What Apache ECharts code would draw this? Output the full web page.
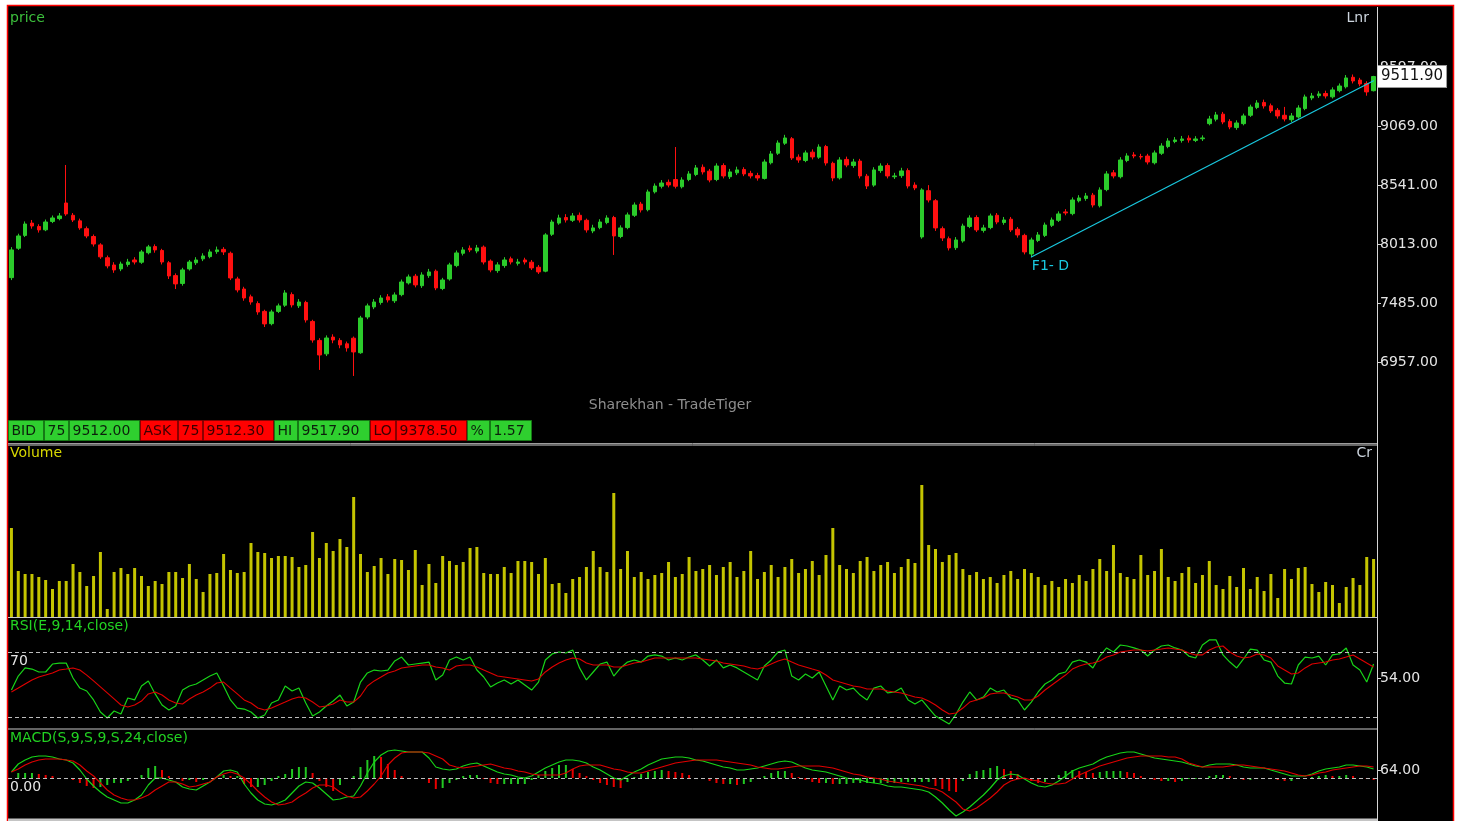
<!DOCTYPE html>
<html>
<head>
<meta charset="utf-8">
<title>price</title>
<script src="https://cdn.jsdelivr.net/npm/echarts@6/dist/echarts.min.js"></script>
<style>
  html, body { margin: 0; padding: 0; background: #ffffff; overflow: hidden; }
  #chart { width: 1459px; height: 821px; }
</style>
</head>
<body>
<div id="chart"></div>
<script>
// ---- daily candles: open / close / low / high ----
const opens = [7712,7975,8090,8200,8170,8140,8215,8240,8380,8270,
 8220,8150,8080,8005,7890,7825,7790,7830,7870,7850,
 7935,7990,7955,7845,7730,7660,7790,7845,7880,7900,
 7945,7965,7930,7700,7610,7540,7480,7410,7300,7410,
 7465,7560,7460,7490,7320,7150,7030,7180,7150,7120,
 7170,7040,7360,7450,7490,7540,7505,7560,7665,7725,
 7640,7730,7770,7615,7700,7820,7930,7975,7950,7985,
 7860,7775,7820,7880,7840,7870,7850,7805,7770,8100,
 8200,8250,8225,8270,8225,8130,8160,8205,8250,8080,
 8160,8270,8370,8320,8480,8530,8565,8590,8525,8590,
 8635,8700,8665,8590,8715,8615,8650,8680,8645,8625,
 8600,8740,8825,8915,8955,8790,8760,8835,8790,8885,
 8735,8605,8770,8715,8755,8620,8540,8670,8715,8615,
 8625,8670,8540,8076,8490,8400,8150,8060,7980,8040,
 8170,8250,8135,8160,8270,8205,8235,8145,8090,7924,
 8045,8090,8180,8225,8300,8285,8400,8420,8450,8355,
 8500,8650,8615,8760,8810,8795,8800,8740,8825,8885,
 8930,8940,8960,8940,8955,9090,9130,9175,9110,9055,
 9090,9165,9235,9280,9250,9210,9165,9125,9150,9225,
 9320,9340,9360,9330,9385,9420,9505,9480,9450,9385];

const closes = [7960,8085,8192,8174,8139,8210,8246,8264,8282,8228,
 8157,8085,8013,7898,7817,7781,7834,7852,7852,7942,
 7987,7960,7852,7727,7656,7781,7852,7870,7906,7942,
 7960,7942,7709,7602,7530,7494,7405,7298,7405,7459,
 7575,7468,7494,7333,7154,7020,7172,7154,7110,7083,
 7047,7351,7459,7494,7530,7512,7557,7673,7718,7647,
 7736,7763,7620,7691,7826,7933,7960,7960,7978,7852,
 7781,7826,7870,7852,7852,7852,7799,7763,8094,8210,
 8246,8228,8264,8228,8139,8157,8210,8246,8085,8157,
 8273,8362,8318,8479,8532,8559,8541,8530,8586,8640,
 8694,8658,8586,8711,8622,8658,8676,8640,8622,8604,
 8747,8819,8917,8962,8783,8765,8828,8792,8881,8738,
 8604,8765,8720,8747,8622,8532,8676,8711,8622,8622,
 8667,8532,8515,8497,8407,8157,8067,7978,8049,8174,
 8246,8139,8157,8264,8210,8228,8139,8094,7942,8049,
 8094,8183,8228,8282,8291,8407,8425,8443,8362,8497,
 8640,8622,8765,8801,8801,8792,8747,8828,8890,8935,
 8944,8953,8944,8953,8962,9132,9168,9105,9060,9096,
 9159,9239,9275,9248,9204,9159,9132,9159,9230,9329,
 9338,9356,9338,9392,9427,9499,9472,9445,9374,9511.9];

const lows = [7690,7960,8075,8150,8115,8128,8200,8225,8265,8210,
 8140,8065,7990,7880,7795,7755,7770,7810,7830,7835,
 7920,7935,7830,7700,7610,7640,7775,7825,7860,7885,
 7925,7915,7690,7580,7505,7470,7380,7270,7285,7395,
 7450,7445,7440,7310,7130,6886,7010,7125,7080,7050,
 6832,7030,7340,7430,7470,7490,7485,7545,7650,7625,
 7620,7710,7600,7600,7685,7805,7910,7940,7930,7830,
 7760,7755,7800,7830,7820,7830,7780,7745,7760,8085,
 8185,8205,8210,8205,8115,8110,8145,8190,7915,8065,
 8145,8255,8295,8305,8465,8510,8520,8510,8510,8575,
 8620,8635,8565,8575,8600,8595,8630,8620,8600,8580,
 8590,8725,8810,8900,8765,8740,8745,8770,8775,8715,
 8575,8590,8700,8695,8600,8505,8525,8650,8600,8595,
 8605,8510,8495,8060,8385,8130,8040,7955,7960,8025,
 8155,8120,8115,8145,8190,8185,8120,8070,7920,7897,
 8030,8075,8165,8210,8270,8270,8385,8400,8340,8340,
 8485,8600,8600,8745,8780,8770,8725,8725,8810,8870,
 8915,8920,8920,8925,8935,9075,9110,9085,9040,9035,
 9075,9150,9220,9225,9185,9135,9110,9105,9135,9210,
 9300,9320,9315,9315,9370,9405,9450,9425,9340,9378.5];

const highs = [7985,8105,8215,8228,8190,8232,8268,8290,8720,8290,
 8240,8170,8098,8020,7910,7850,7855,7880,7895,7960,
 8005,8010,7970,7860,7750,7800,7870,7895,7930,7965,
 7990,7985,7945,7720,7630,7560,7500,7425,7425,7480,
 7600,7580,7520,7505,7335,7170,7195,7205,7170,7140,
 7185,7370,7480,7520,7555,7565,7580,7695,7740,7745,
 7760,7790,7785,7710,7845,7955,7985,8000,8005,8000,
 7875,7850,7895,7900,7880,7890,7870,7825,8110,8230,
 8275,8280,8290,8295,8240,8185,8235,8270,8265,8180,
 8295,8385,8390,8500,8555,8585,8590,8881,8610,8665,
 8720,8725,8685,8735,8735,8685,8705,8700,8668,8650,
 8770,8845,8940,8990,8970,8815,8850,8860,8905,8900,
 8750,8790,8795,8775,8775,8640,8700,8735,8735,8650,
 8695,8690,8565,8512,8540,8415,8170,8080,8075,8195,
 8270,8270,8185,8285,8290,8255,8255,8165,8105,8070,
 8120,8205,8250,8305,8325,8430,8450,8470,8470,8520,
 8665,8675,8790,8825,8835,8820,8820,8850,8915,8960,
 8970,8980,8985,8978,8985,9160,9195,9195,9130,9120,
 9180,9260,9300,9305,9270,9230,9240,9185,9255,9350,
 9365,9380,9385,9415,9450,9525,9530,9500,9470,9517.9];

// ---- traded volume per session ----
const volumes = [89,46,43,43,40,37,28,36,36,53,
 45,31,41,65,8,45,49,43,49,41,
 31,36,33,45,45,39,53,38,25,43,
 44,63,47,44,45,74,65,64,59,61,
 61,60,50,52,85,59,74,66,78,70,
 120,63,45,51,59,43,58,57,47,67,
 32,53,34,61,56,52,55,69,70,44,
 43,43,50,44,56,56,55,43,59,33,
 34,24,38,40,50,66,50,45,124,48,
 66,40,45,38,42,44,55,40,43,60,
 46,48,52,42,50,55,40,46,66,38,
 45,52,40,50,58,44,48,56,42,62,
 89,52,48,44,56,60,46,52,55,44,
 50,58,54,132,72,68,55,62,64,48,
 42,45,38,40,34,42,46,38,48,44,
 40,32,36,30,38,34,42,36,48,58,
 46,72,44,40,38,62,42,46,68,40,
 36,44,50,34,42,56,32,28,41,30,
 49,28,40,26,43,19,48,38,49,50,
 33,25,35,32,14,30,39,32,60,58];

// ---- RSI(E,9,14,close): RSI line and its average ----
const rsiLine = [46.6,55.2,60.2,59.5,57.7,57.7,62.6,63.2,63.2,54,
 47.8,46,40.5,33.1,29.4,33.7,31.8,41.7,40.5,49.1,
 52.2,44.2,37.4,34.3,36.8,46.6,49.1,50.3,52.8,55.2,
 57.1,49.1,40.5,35.5,34.9,33.1,29.4,31.2,38.6,40.5,
 49.1,46,47.8,38.6,30.6,33.1,36.8,39.8,43.5,36.8,
 39.2,51.5,57.1,58.9,58.3,58.9,64.5,66.9,62,62.6,
 63.2,63.8,52.8,55.8,65.1,66.9,65.1,66.9,58.9,54.6,
 48.5,50.9,52.8,50.3,52.8,49.7,46.6,51.5,65.1,68.8,
 70,69.4,71.2,60.2,52.8,57.7,62.6,63.8,55.2,60.2,
 63.8,65.1,63.8,67.5,68.2,67.5,65.1,66.3,65.1,66.9,
 68.2,65.1,61.4,65.1,60.2,62,60.2,57.7,55.2,52.8,
 61.4,65.1,70,71.2,55.2,52.8,56.5,54,57.7,49.1,
 40.5,49.1,46.6,47.8,43.5,40.5,47.8,49.1,44.8,45.4,
 47.8,40.5,38,40.5,35.5,30.6,28.2,25.7,31.8,39.2,
 45.4,40.5,42.3,47.8,45.4,46.6,41.7,40.5,34.3,39.2,
 45.4,50.3,52.8,56.5,57.7,63.8,65.1,63.8,60.2,67.5,
 72.5,70,74.3,73.7,72.5,71.2,67.5,71.2,73.7,74.3,
 72.5,71.2,67.5,66.3,74.3,77.4,77.4,68.2,63.8,60.2,
 65.7,71.8,71.2,65.1,63.8,55.2,50.9,50.3,62,66.9,
 66.3,67.5,62,68.2,68.8,72.5,62,58.9,51.5,62.6];

const rsiSignal = [45.4,47.8,50.3,52.8,54.6,55.8,57.1,58.9,59.5,60.2,
 58.9,55.8,52.2,48.5,44.8,41.1,37.4,36.2,37.4,39.8,
 44.2,45.4,43.5,40.5,38.6,38,41.1,43.5,45.4,47.8,
 50.9,51.5,47.8,44.2,40.5,38.6,35.5,34.3,35.5,37.4,
 39.2,41.1,42.3,41.7,39.2,36.2,36.8,38,40.5,39.2,
 39.2,42.9,49.1,52.2,54.6,57.1,58.3,60.2,60.8,61.4,
 62,62,60.8,60.2,58.9,61.4,62,62,60.8,58.9,
 57.1,55.2,54.6,54,53.4,52.8,52.2,53.4,57.7,60.8,
 63.2,65.1,66.3,65.7,63.2,62,62,62,60.8,60.8,
 62,63.2,63.8,65.1,66.3,66.3,66.3,66.3,66.3,66.3,
 66.3,65.7,65.1,64.5,63.2,62.6,62,61.4,60.2,59.5,
 60.8,62.6,64.5,65.7,63.8,62,60.8,59.5,58.3,55.8,
 52.8,51.5,50.3,49.1,48.5,47.2,47.2,47.2,46,45.4,
 44.8,43.5,42.3,41.7,39.8,37.4,34.3,31.8,32.5,35.5,
 39.2,40.5,41.7,44.2,44.8,44.8,43.5,42.3,40.5,40.5,
 42.9,46.6,49.7,52.8,55.8,59.5,61.4,62.6,63.2,64.5,
 66.9,68.2,70,70.6,71.2,71.2,70.6,71.2,71.8,72.5,
 71.8,71.2,69.4,68.2,68.2,71.2,73.1,73.7,70,67.5,
 66.3,66.9,68.8,68.2,66.3,61.4,58.9,56.5,57.1,60.2,
 62.6,63.2,63.8,65.1,65.7,66.9,68.2,65.7,63.2,60.8];

// ---- MACD(S,9,S,9,S,24,close): MACD line and signal line ----
const macdLine = [48,112,144,168,176,176,168,152,144,120,
 64,-8,-64,-112,-152,-176,-200,-200,-176,-136,
 -56,0,0,-16,-32,-72,-88,-96,-64,-32,
 8,56,64,48,-48,-120,-176,-208,-216,-200,
 -176,-120,-64,-32,-40,-80,-128,-176,-168,-152,
 -144,-64,40,128,184,216,224,216,208,208,
 208,160,88,72,64,72,96,112,120,96,
 72,48,32,24,8,0,16,48,80,104,
 128,144,144,136,120,88,64,32,0,-16,
 16,48,72,104,128,152,160,168,168,160,
 144,136,120,104,88,80,64,64,72,80,
 96,112,128,136,128,104,80,64,56,48,
 32,16,0,-8,-16,-32,-40,-48,-64,-72,
 -72,-80,-88,-96,-112,-152,-200,-256,-304,-272,
 -232,-184,-136,-80,-16,16,32,24,-8,-40,
 -64,-72,-56,-24,16,56,80,96,112,144,
 168,184,200,208,208,192,176,160,152,144,
 136,128,112,96,88,104,112,112,112,104,
 88,80,80,80,64,48,32,16,16,16,
 32,56,72,80,88,104,104,96,88,72];

const macdSignal = [48,72,104,128,144,152,152,152,144,136,
 104,56,16,-40,-96,-136,-160,-176,-176,-160,
 -136,-96,-64,-32,-32,-48,-72,-64,-48,-32,
 8,32,48,32,0,-48,-104,-152,-192,-216,
 -208,-192,-152,-120,-80,-56,-56,-72,-112,-144,
 -160,-152,-104,-48,16,104,160,200,208,208,
 208,200,176,152,104,88,80,88,96,104,
 112,96,80,72,56,48,32,24,24,24,
 24,40,72,96,104,104,104,88,72,64,
 48,40,40,56,72,88,104,120,128,136,
 144,144,144,144,136,128,120,112,104,88,
 80,72,72,80,88,96,96,96,96,88,
 80,64,48,32,24,8,0,-8,-24,-32,
 -40,-48,-56,-64,-80,-88,-112,-152,-192,-248,
 -264,-240,-200,-160,-112,-56,-24,-8,0,-16,
 -24,-40,-48,-48,-40,-8,24,48,72,96,
 112,128,144,160,168,176,176,176,176,168,
 168,152,120,104,88,88,88,88,96,104,
 104,96,88,80,72,64,56,40,24,16,
 24,40,48,64,72,80,88,96,96,88];

// ---- axis ticks, reference levels, quote strip ----
const priceTicks = [6957, 7485, 8013, 8541, 9069, 9597];
const rsiTicks = [54];
const macdTicks = [64];
const rsiBands = [70, 30];
const macdZero = [0];
const lastPrice = 9511.9;
const trendLine = [[149, 7897], [199, 9474]];
const quoteLabels = ['BID', '75', '9512.00', 'ASK', '75', '9512.30', 'HI', '9517.90', 'LO', '9378.50', '%', '1.57'];
const quoteSides = ['bid', 'bid', 'bid', 'ask', 'ask', 'ask', 'bid', 'bid', 'ask', 'ask', 'bid', 'bid'];

// ---------------------------------------------------------------
const FONT = '"DejaVu Sans", Verdana, sans-serif';
const UP = '#2bcb2b';
const DOWN = '#ff1010';
const PLOT_LEFT = 8;
const PLOT_RIGHT = 1377;
const RIGHT_GAP = 1459 - PLOT_RIGHT;

const sessions = closes.map((_, i) => String(i + 1));
const candles = closes.map((c, i) => [opens[i], c, lows[i], highs[i]]);
const macdHist = macdLine.map((v, i) => v - macdSignal[i]);

const panes = [
  { top: 7, height: 436 },
  { top: 445, height: 172 },
  { top: 618, height: 110 },
  { top: 730, height: 88 }
];
const yRanges = [
  { min: 6232.1, max: 10133.95 },
  { min: 0, max: 172 },
  { min: 23.23, max: 90.92 },
  { min: -320, max: 384 }
];
const yTicks = [priceTicks, null, rsiTicks, macdTicks];

const grid = panes.map(p => ({
  left: PLOT_LEFT, right: RIGHT_GAP, top: p.top, height: p.height,
  containLabel: false, outerBoundsMode: 'none'
}));

const xAxis = panes.map((_, k) => ({
  type: 'category', gridIndex: k, data: sessions, boundaryGap: true, show: false
}));

const yAxis = panes.map((_, k) => {
  const ticks = yTicks[k];
  const ax = {
    type: 'value', gridIndex: k, position: 'right',
    min: yRanges[k].min, max: yRanges[k].max,
    splitLine: { show: false },
    axisLine: { show: false },
    axisTick: { show: false },
    axisLabel: { show: false }
  };
  if (ticks) {
    ax.axisTick = { show: true, inside: false, length: 4, customValues: ticks,
      lineStyle: { color: '#d8d8d8', width: 1 } };
    ax.axisLabel = { show: true, customValues: ticks, margin: 3,
      formatter: v => Number(v).toFixed(2),
      color: '#e4e4e4', fontSize: 14, fontFamily: FONT };
  }
  return ax;
});

const dashed = { color: '#bdbdbd', type: [4, 3], width: 1 };

const series = [
  {
    name: 'price', type: 'candlestick', xAxisIndex: 0, yAxisIndex: 0,
    data: candles, barWidth: 4,
    itemStyle: { color: UP, color0: DOWN, borderColor: UP, borderColor0: DOWN, borderWidth: 1 },
    z: 5
  },
  {
    // last traded price, tagged on the price scale
    name: 'last', type: 'line', xAxisIndex: 0, yAxisIndex: 0,
    data: [], silent: true, z: 30,
    markLine: {
      silent: true, symbol: ['none', 'none'], animation: false,
      lineStyle: { color: 'rgba(0,0,0,0)', width: 0 },
      label: {
        show: true, position: 'end', distance: 1,
        formatter: p => Number(p.value).toFixed(2),
        backgroundColor: '#ffffff', color: '#111111',
        borderColor: '#9a9a9a', borderWidth: 1,
        fontSize: 15, fontFamily: FONT, padding: [3, 3, 3, 3]
      },
      data: [{ yAxis: lastPrice }],
      z: 30
    }
  },
  {
    name: 'F1- D', type: 'line', xAxisIndex: 0, yAxisIndex: 0,
    data: [
      { value: trendLine[0], label: { show: true, formatter: 'F1- D', position: [1, 3],
        color: '#19c8df', fontSize: 14, fontFamily: FONT, align: 'left', verticalAlign: 'top' } },
      { value: trendLine[1] }
    ],
    symbol: 'circle', symbolSize: 1,
    itemStyle: { color: '#19c8df' },
    lineStyle: { color: '#19c8df', width: 1.2 },
    z: 6
  },
  {
    name: 'Volume', type: 'bar', xAxisIndex: 1, yAxisIndex: 1,
    data: volumes, barWidth: 3,
    itemStyle: { color: '#c4c400' }
  },
  {
    name: 'RSI', type: 'line', xAxisIndex: 2, yAxisIndex: 2,
    data: rsiLine, showSymbol: false, symbol: 'none',
    lineStyle: { color: '#18d418', width: 1.2 }, z: 4,
    markLine: {
      silent: true, symbol: ['none', 'none'], animation: false,
      lineStyle: dashed,
      label: { show: false },
      data: rsiBands.map(v => ({
        yAxis: v,
        label: v === 70
          ? { show: true, formatter: String(v), position: 'insideStartBottom', distance: 2,
              color: '#e6e6e6', fontSize: 14, fontFamily: FONT }
          : { show: false }
      }))
    }
  },
  {
    name: 'RSI avg', type: 'line', xAxisIndex: 2, yAxisIndex: 2,
    data: rsiSignal, showSymbol: false, symbol: 'none',
    lineStyle: { color: '#e00000', width: 1.1 }, z: 5
  },
  {
    name: 'MACD hist', type: 'bar', xAxisIndex: 3, yAxisIndex: 3,
    data: macdHist, barWidth: 2,
    itemStyle: {
      color: p => (p.dataIndex === 0 || macdHist[p.dataIndex] >= macdHist[p.dataIndex - 1]) ? '#22c822' : '#e80000'
    },
    markLine: {
      silent: true, symbol: ['none', 'none'], animation: false,
      lineStyle: dashed,
      data: macdZero.map(v => ({
        yAxis: v,
        label: { show: true, formatter: v.toFixed(2), position: 'insideStartBottom', distance: 2,
          color: '#e6e6e6', fontSize: 14, fontFamily: FONT }
      }))
    }
  },
  {
    name: 'MACD', type: 'line', xAxisIndex: 3, yAxisIndex: 3,
    data: macdLine, showSymbol: false, symbol: 'none',
    lineStyle: { color: '#18d418', width: 1.2 }, z: 4
  },
  {
    name: 'Signal', type: 'line', xAxisIndex: 3, yAxisIndex: 3,
    data: macdSignal, showSymbol: false, symbol: 'none',
    lineStyle: { color: '#e00000', width: 1.1 }, z: 5
  }
];

// ---- frame, pane separators, captions and the quote strip ----
function caption(x, y, str, color, align) {
  return { type: 'text', x, y, z: 50,
    style: { text: str, fill: color, fontSize: 14, fontFamily: FONT,
      align: align || 'left', verticalAlign: 'middle' } };
}
function hLine(y, color, w) {
  return { type: 'line', z: 40, shape: { x1: PLOT_LEFT, y1: y, x2: PLOT_RIGHT, y2: y },
    style: { stroke: color, lineWidth: w || 1 } };
}

const graphic = [
  { type: 'rect', z: -100, shape: { x: 7.5, y: 5.5, width: 1446, height: 820 },
    style: { fill: '#000000', stroke: '#ff0000', lineWidth: 1.5 } },
  { type: 'line', z: 40, shape: { x1: PLOT_RIGHT + 0.5, y1: 7, x2: PLOT_RIGHT + 0.5, y2: 821 },
    style: { stroke: '#d6d6d6', lineWidth: 1 } },
  hLine(443.5, '#9c9c9c', 1),
  hLine(445, '#d0d0d0', 1),
  hLine(617.5, '#c8c8c8', 1),
  hLine(729, '#c8c8c8', 1),
  { type: 'rect', z: 40, shape: { x: PLOT_LEFT, y: 818.5, width: PLOT_RIGHT - PLOT_LEFT, height: 3 },
    style: { fill: '#c4c4c4' } },
  caption(10, 18, 'price', '#3cbf3c'),
  caption(1369, 18, 'Lnr', '#cdd5de', 'right'),
  caption(10, 453, 'Volume', '#d8d800'),
  caption(1372, 453, 'Cr', '#cdd5de', 'right'),
  caption(10, 626, 'RSI(E,9,14,close)', '#22d222'),
  caption(10, 738, 'MACD(S,9,S,9,S,24,close)', '#22d222'),
  caption(670, 405, 'Sharekhan - TradeTiger', '#8e8e8e', 'center')
];

const cellWidths = [35, 24, 70, 37, 24, 70, 23, 71, 25, 70, 22, 41];
let cx = 8.5;
quoteLabels.forEach((label, i) => {
  const bid = quoteSides[i] === 'bid';
  const w = cellWidths[i];
  graphic.push({ type: 'rect', z: 45, shape: { x: cx, y: 420.5, width: w, height: 20 },
    style: { fill: bid ? '#2fcf2f' : '#ff0000', stroke: bid ? '#157a15' : '#8a0000', lineWidth: 1 } });
  graphic.push({ type: 'text', z: 46, x: cx + 3, y: 431,
    style: { text: label, fill: bid ? '#0c200c' : '#3a0000', fontSize: 14, fontFamily: FONT,
      align: 'left', verticalAlign: 'middle' } });
  cx += w + 1;
});

const chart = echarts.init(document.getElementById('chart'), null, { renderer: 'canvas' });
chart.setOption({
  backgroundColor: '#ffffff',
  animation: false,
  grid, xAxis, yAxis, series, graphic
});
</script>
</body>
</html>
